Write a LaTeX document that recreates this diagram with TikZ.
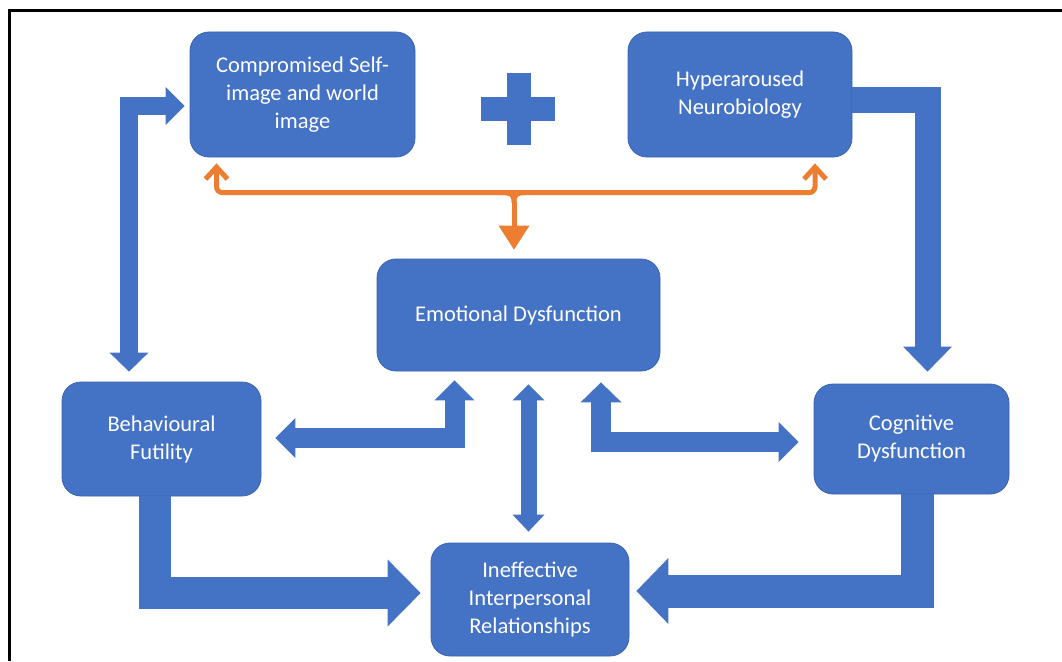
\documentclass[tikz,border=0pt]{standalone}
\usepackage{fontspec}
\setmainfont{Carlito}
\usetikzlibrary{arrows.meta,calc}
\definecolor{boxblue}{HTML}{4472C4}
\definecolor{boxedge}{HTML}{3A63AE}
\definecolor{orng}{HTML}{ED7D31}
\begin{document}
\begin{tikzpicture}[x=1pt,y=-1pt,
  stagebox/.style={rounded corners=19pt, fill=boxblue, draw=boxedge, line width=0.8pt,
    text=white, align=center, inner sep=0pt,
    font=\fontsize{22.5}{28}\selectfont},
  blockarrow/.style={draw=boxblue, line join=miter, line cap=butt},
  orangeline/.style={draw=orng, line width=5pt, line cap=round, line join=round},
]
\useasboundingbox (0,0) rectangle (1062,661);
\fill[white] (0,0) rectangle (1062,661);
% frame (top and left only)
\draw[line width=3pt] (9.5,661) -- (9.5,10.5) -- (1062,10.5);

% boxes
\node[stagebox, minimum width=225pt, minimum height=125pt] (cs) at (302.5,94.5) {Compromised Self-\\image and world\\image};
\node[stagebox, minimum width=224pt, minimum height=125pt] (hn) at (740,94.5) {Hyperaroused\\Neurobiology};
\node[stagebox, minimum width=283pt, minimum height=112pt] (ed) at (518.5,315) {Emotional Dysfunction};
\node[stagebox, minimum width=199pt, minimum height=114pt] (bf) at (161.5,439) {Behavioural\\Futility};
\node[stagebox, minimum width=195pt, minimum height=110pt] (cd) at (911.5,439) {Cognitive\\Dysfunction};
\node[stagebox, minimum width=198pt, minimum height=113pt] (ir) at (530,599.5) {Ineffective\\Interpersonal\\Relationships};

% plus sign
\fill[boxblue] (481,97) rectangle (555,121);
\fill[boxblue] (507,73) rectangle (531,145);

% block arrows
\draw[blockarrow, line width=18pt,
  {Triangle[width=39pt,length=19pt,line width=0pt]}-{Triangle[width=38pt,length=19pt,line width=0pt]}]
  ($(bf.north)+(-32.5,-10)$) |- ($(cs.west)+(-5,11.5)$);
\draw[blockarrow, line width=26pt, -{Triangle[width=49pt,length=25pt,line width=0pt]}]
  ($(hn.east)+(0,5.5)$) -| ($(cd.north)+(16,-12)$);
\draw[blockarrow, line width=33pt, -{Triangle[width=66pt,length=32pt,line width=0pt]}]
  ($(cd.south)+(6,0)$) |- ($(ir.east)+(7,-8.5)$);
\draw[blockarrow, line width=32pt, -{Triangle[width=67pt,length=33pt,line width=0pt]}]
  ($(bf.south)+(-7,0)$) |- ($(ir.west)+(-10,-6.5)$);
\draw[blockarrow, line width=20pt,
  {Triangle[width=40pt,length=20pt,line width=0pt]}-{Triangle[width=40pt,length=20pt,line width=0pt]}]
  ($(ed.south)+(-64,9)$) |- ($(bf.east)+(14,-1)$);
\draw[blockarrow, line width=20pt,
  {Triangle[width=41pt,length=20pt,line width=0pt]}-{Triangle[width=40pt,length=20pt,line width=0pt]}]
  ($(ed.south)+(82.5,11)$) |- ($(cd.west)+(-15,3)$);
\draw[blockarrow, line width=16pt,
  {Triangle[width=32pt,length=16pt,line width=0pt]}-{Triangle[width=32pt,length=17pt,line width=0pt]}]
  ($(ed.south)+(10,13)$) -- ($(ir.north)+(-1.5,-11)$);

% orange connector
\coordinate (jn) at ($(ed.north)+(-4.5,-66)$);
\draw[orangeline, rounded corners=6pt,
  {Straight Barb[length=12pt,width=22pt]}-{Straight Barb[length=12pt,width=22pt]}]
  ($(cs.south)+(-86,6)$) |- (jn) -| ($(hn.south)+(75,6)$);
\draw[orangeline, line cap=butt]
  ($(jn)+(-12,0)$) .. controls ($(jn)+(-2,0)$) and ($(jn)+(0,2)$) .. ($(jn)+(0,10)$)
  ($(jn)+(12,0)$) .. controls ($(jn)+(2,0)$) and ($(jn)+(0,2)$) .. ($(jn)+(0,10)$);
\draw[orangeline, line cap=butt, -{Triangle[width=31pt,length=24pt,line width=0pt]}]
  ($(jn)+(0,9)$) -- ($(ed.north)+(-4.5,-9)$);
\end{tikzpicture}
\end{document}
